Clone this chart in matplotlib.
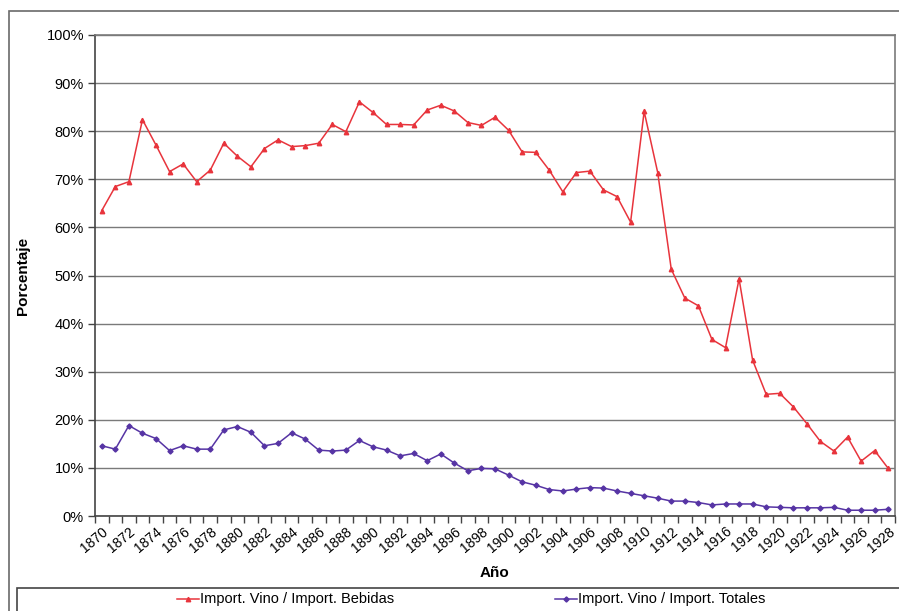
import numpy as np
import matplotlib
matplotlib.use("Agg")
import matplotlib.pyplot as plt
from matplotlib.patches import Rectangle
from matplotlib.lines import Line2D
from matplotlib.ticker import FixedLocator, PercentFormatter

plt.rcParams['font.family'] = ['Liberation Sans', 'DejaVu Sans']

# ------------------------------------------------------------------
# Data
# ------------------------------------------------------------------
years = list(range(1870, 1929))

vino_bebidas = [
    63.5, 68.5, 69.5, 82.4, 77.1, 71.6, 73.2, 69.5, 71.9, 77.5,
    74.8, 72.6, 76.4, 78.2, 76.8, 77.0, 77.5, 81.4, 79.9, 86.1,
    83.9, 81.4, 81.4, 81.3, 84.4, 85.4, 84.2, 81.8, 81.2, 82.9,
    80.2, 75.7, 75.6, 71.9, 67.4, 71.4, 71.7, 67.8, 66.4, 61.1,
    84.1, 71.4, 51.3, 45.3, 43.7, 36.7, 35.0, 49.3, 32.4, 25.3,
    25.5, 22.7, 19.2, 15.5, 13.5, 16.4, 11.4, 13.6, 9.9,
]

vino_totales = [
    14.6, 13.9, 18.8, 17.2, 16.1, 13.6, 14.6, 13.9, 13.9, 17.9,
    18.6, 17.4, 14.6, 15.1, 17.3, 16.0, 13.7, 13.5, 13.7, 15.7,
    14.4, 13.7, 12.5, 13.0, 11.5, 12.9, 11.0, 9.4, 9.9, 9.8,
    8.5, 7.1, 6.4, 5.5, 5.2, 5.6, 5.9, 5.8, 5.2, 4.7,
    4.2, 3.7, 3.1, 3.1, 2.8, 2.3, 2.5, 2.5, 2.5, 1.9,
    1.8, 1.7, 1.7, 1.7, 1.8, 1.2, 1.2, 1.2, 1.4,
]

label_bebidas = 'Import. Vino / Import. Bebidas'
label_totales = 'Import. Vino / Import. Totales'

RED = '#e8343c'
BLUE = '#5634a4'
GRID = '#7a7a7a'

# ------------------------------------------------------------------
# Figure
# ------------------------------------------------------------------
W, H = 899, 611
fig = plt.figure(figsize=(W / 100, H / 100), dpi=100)
fig.patch.set_facecolor('white')

ax = fig.add_axes([95 / W, 1 - 516 / H, 800 / W, (516 - 35) / H])

x = np.arange(len(years))
ax.plot(x, vino_bebidas, color=RED, lw=1.1, marker='^', ms=3.2,
        label=label_bebidas)
ax.plot(x, vino_totales, color=BLUE, lw=1.1, marker='D', ms=2.6,
        label=label_totales)

ax.set_xlim(-0.5, len(years) - 0.5)
ax.set_ylim(0, 100)

# y axis
ax.set_yticks(np.arange(0, 101, 10))
ax.yaxis.set_major_formatter(PercentFormatter(decimals=0))
ax.grid(axis='y', color=GRID, lw=1.0)
ax.set_axisbelow(True)

# x axis: tick marks between categories, labels every other year
ax.xaxis.set_major_locator(FixedLocator(x[::2]))
ax.set_xticklabels([str(y) for y in years[::2]], rotation=40,
                   ha='right', va='top', rotation_mode='anchor')
ax.xaxis.set_minor_locator(FixedLocator(np.arange(-0.5, len(years), 1.0)))
ax.tick_params(axis='x', which='major', length=0, pad=6, labelsize=10)
ax.tick_params(axis='x', which='minor', length=5, width=1, color='#444444')
ax.tick_params(axis='y', length=5, width=1, color='#444444', labelsize=10.5,
               pad=3)

for side in ['top', 'right']:
    ax.spines[side].set_color(GRID)
    ax.spines[side].set_linewidth(1.2)
for side in ['left', 'bottom']:
    ax.spines[side].set_color('#444444')
    ax.spines[side].set_linewidth(1.2)

ax.set_ylabel('Porcentaje', fontsize=11, fontweight='bold', labelpad=12)
ax.set_xlabel('Año', fontsize=11, fontweight='bold', labelpad=8)

# ------------------------------------------------------------------
# Outer chart frame and legend box along the bottom
# ------------------------------------------------------------------
fig.patches.append(Rectangle((9 / W, -0.05), 1.2, 1 - 11 / H + 0.05,
                             transform=fig.transFigure, fill=False,
                             edgecolor='#6a6a6a', lw=1.2))
fig.patches.append(Rectangle((17 / W, -0.05), 1.2, (611 - 588) / H + 0.05,
                             transform=fig.transFigure, fill=False,
                             edgecolor='#444444', lw=1.2))

ly = 1 - 599 / H
for x0, color, mk, ms, text in [
        (177, RED, '^', 3.2, label_bebidas),
        (555, BLUE, 'D', 2.6, label_totales)]:
    fig.lines.append(Line2D([x0 / W, (x0 + 22) / W], [ly, ly],
                            transform=fig.transFigure, color=color, lw=1.1))
    fig.lines.append(Line2D([(x0 + 11) / W], [ly], transform=fig.transFigure,
                            color=color, marker=mk, ms=ms))
    fig.text((x0 + 23) / W, ly, text, fontsize=10.5, va='center', ha='left')

fig.savefig('out.png', dpi=100)
